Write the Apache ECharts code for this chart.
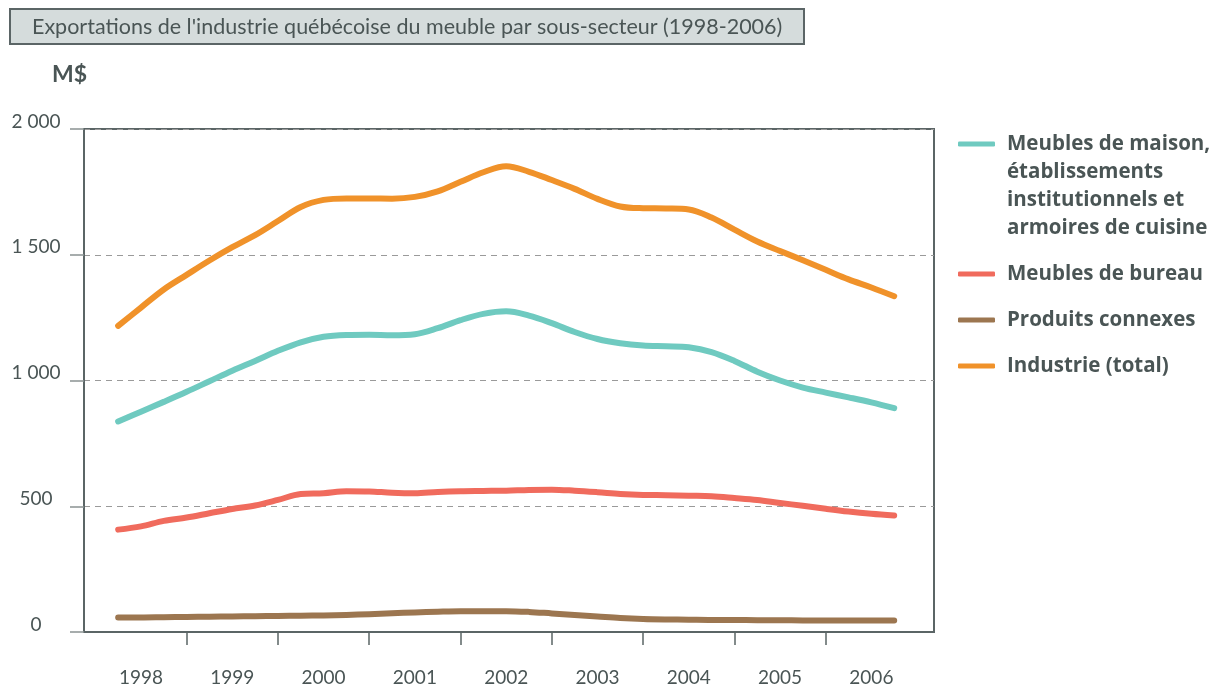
<!DOCTYPE html>
<html>
<head>
<meta charset="utf-8">
<script src="https://cdn.jsdelivr.net/npm/echarts@6/dist/echarts.min.js"></script>
<style>
  html, body { margin: 0; padding: 0; background: #fff; }
  #chart { width: 1225px; height: 692px; }
</style>
</head>
<body>
<div id="chart"></div>
<script>
// quarter positions (fractional years) where the curves were read
const periods = [
  1997.75, 1998.00, 1998.25, 1998.50, 1998.75, 1999.00, 1999.25, 1999.50, 1999.75,
  2000.00, 2000.25, 2000.50, 2000.75, 2001.00, 2001.25, 2001.50, 2001.75,
  2002.00, 2002.25, 2002.50, 2002.75, 2003.00, 2003.25, 2003.50, 2003.75,
  2004.00, 2004.25, 2004.50, 2004.75, 2005.00, 2005.25, 2005.50, 2005.75,
  2006.00, 2006.25
];
const years = [1998, 1999, 2000, 2001, 2002, 2003, 2004, 2005, 2006];
const yearBounds = [1998.5, 1999.5, 2000.5, 2001.5, 2002.5, 2003.5, 2004.5, 2005.5];

// M$
const maison = [
  837, 876, 915, 955, 997, 1039, 1078, 1118, 1152,
  1174, 1181, 1182, 1180, 1184, 1208, 1240, 1265,
  1275, 1258, 1228, 1193, 1165, 1148, 1139, 1136,
  1132, 1113, 1078, 1035, 1000, 972, 952, 933,
  913, 890
];
const bureau = [
  407, 420, 442, 455, 472, 489, 503, 525, 549,
  552, 560, 559, 554, 552, 557, 560, 561,
  562, 565, 566, 562, 556, 549, 545, 544,
  542, 540, 533, 525, 513, 502, 490, 479,
  470, 463
];
const connexes = [
  58, 58, 59, 60, 61, 62, 63, 64, 65,
  66, 68, 71, 75, 78, 81, 83, 83,
  83, 80, 74, 68, 62, 56, 52, 50,
  49, 48, 48, 47, 47, 46, 46, 46,
  46, 46
];
const industrie = [
  1217, 1290, 1362, 1420, 1477, 1530, 1578, 1634, 1690,
  1718, 1724, 1724, 1723, 1730, 1752, 1790, 1828,
  1852, 1830, 1797, 1762, 1722, 1692, 1685, 1684,
  1680, 1648, 1600, 1553, 1515, 1478, 1440, 1402,
  1370, 1335
];

const names = ['Meubles de maison', 'Meubles de bureau', 'Produits connexes', 'Industrie (total)'];
const colors = ['#6fcac0', '#f06b5d', '#9c7650', '#f0922a'];

const textColor = '#4a5555';
const frameColor = '#5b6566';
const font = 'Lato';

function toPairs(values) {
  return periods.map((p, i) => [p, values[i]]);
}

function lineSeries(name, values, color) {
  return {
    name: name,
    type: 'line',
    smooth: 0.35,
    showSymbol: false,
    data: toPairs(values),
    lineStyle: { width: 6, color: color, cap: 'round', join: 'round' },
    itemStyle: { color: color }
  };
}

const myChart = echarts.init(document.getElementById('chart'), null, { renderer: 'canvas' });

const option = {
  animation: false,
  color: colors,
  textStyle: { fontFamily: font },
  title: [
    {
      text: "Exportations de l'industrie québécoise du meuble par sous-secteur (1998-2006)",
      left: 10,
      top: 9,
      padding: [7, 22, 6, 22],
      backgroundColor: '#d5dcdc',
      borderColor: frameColor,
      borderWidth: 2,
      textStyle: { color: textColor, fontSize: 21.5, fontWeight: 'normal', fontFamily: font }
    },
    {
      text: 'M$',
      left: 52,
      top: 63,
      padding: 0,
      textStyle: { color: textColor, fontSize: 23, fontWeight: 'bold', fontFamily: font }
    }
  ],
  legend: {
    orient: 'vertical',
    left: 958,
    top: 46,
    padding: 0,
    itemGap: 18,
    itemWidth: 37,
    itemHeight: 5,
    icon: 'roundRect',
    selectedMode: false,
    data: names,
    // the blank lines keep the first line level with the swatch
    formatter: function (name) {
      if (name === names[0]) {
        return '\n\n\nMeubles de maison,\nétablissements\ninstitutionnels et\narmoires de cuisine';
      }
      return name;
    },
    textStyle: {
      color: textColor,
      fontSize: 20.5,
      fontWeight: 'bold',
      fontFamily: 'Open Sans',
      lineHeight: 28,
      padding: [0, 0, 0, 7]
    }
  },
  grid: {
    left: 84,
    right: 291,
    top: 129,
    bottom: 60,
    show: true,
    borderColor: frameColor,
    borderWidth: 2
  },
  xAxis: {
    type: 'value',
    min: 1997.376,
    max: 2006.686,
    axisLine: { show: true, lineStyle: { color: frameColor, width: 2 } },
    axisTick: { show: true, length: 13, customValues: yearBounds, lineStyle: { color: frameColor, width: 1.5 } },
    axisLabel: {
      customValues: years,
      margin: 36,
      color: textColor,
      fontSize: 19,
      fontFamily: font,
      formatter: function (v) { return String(Math.round(v)); }
    },
    splitLine: { show: false }
  },
  yAxis: {
    type: 'value',
    min: 0,
    max: 2000,
    interval: 500,
    axisLine: { show: true, lineStyle: { color: frameColor, width: 2 } },
    axisTick: { show: true, length: 14, lineStyle: { color: '#8a9292', width: 1.5 } },
    axisLabel: {
      margin: 48,
      align: 'center',
      verticalAlign: 'bottom',
      padding: [0, 0, -2, 0],
      color: textColor,
      fontSize: 19,
      fontFamily: font,
      formatter: function (v) {
        if (v >= 1000) {
          return Math.floor(v / 1000) + ' ' + String(v % 1000).padStart(3, '0');
        }
        return String(v);
      }
    },
    splitLine: { show: true, lineStyle: { color: '#9a9a9a', type: [6, 5], width: 1 } }
  },
  series: [
    lineSeries(names[0], maison, colors[0]),
    lineSeries(names[1], bureau, colors[1]),
    lineSeries(names[2], connexes, colors[2]),
    lineSeries(names[3], industrie, colors[3])
  ]
};

myChart.setOption(option);
window.onresize = function () {
  myChart.resize();
};
</script>
</body>
</html>
